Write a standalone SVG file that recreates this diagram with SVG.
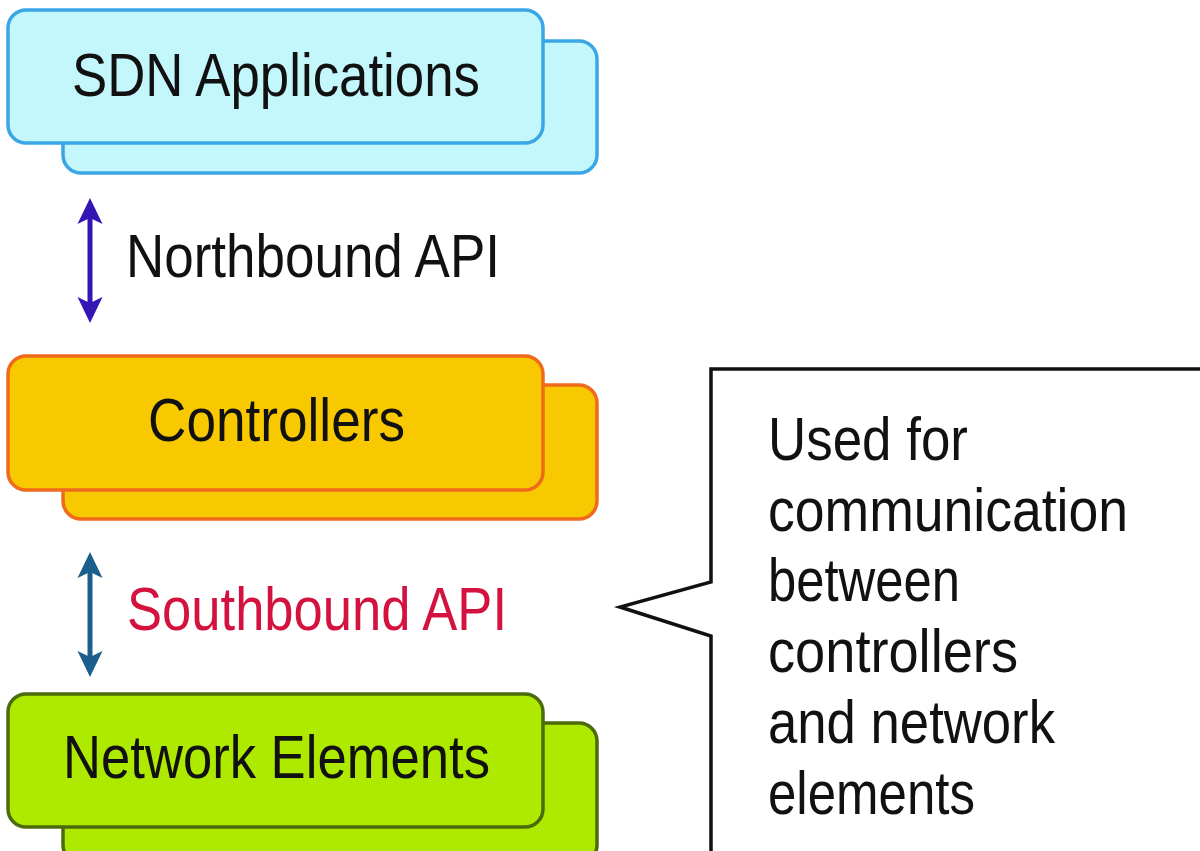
<svg xmlns="http://www.w3.org/2000/svg" width="1200" height="851" viewBox="0 0 1200 851">
<defs>
<style>
.lbl{font-family:"Liberation Sans",Arial,sans-serif;font-size:61px;fill:#111;}
.sdn{fill:#c4f7fc;stroke:#3aa6e6;stroke-width:3.5;}
.ctl{fill:#f8c800;stroke:#f06a1c;stroke-width:3.5;}
.ne{fill:#aeea00;stroke:#4b6b0c;stroke-width:3.5;}
</style>
<marker id="hN" markerUnits="userSpaceOnUse" viewBox="-27 -14 30 28" markerWidth="30" markerHeight="28" refX="-8" refY="0" orient="auto-start-reverse">
<path d="M0,0 L-26,-12.5 L-20,0 L-26,12.5 Z" fill="#3516b4"/>
</marker>
<marker id="hS" markerUnits="userSpaceOnUse" viewBox="-27 -14 30 28" markerWidth="30" markerHeight="28" refX="-8" refY="0" orient="auto-start-reverse">
<path d="M0,0 L-26,-12.5 L-20,0 L-26,12.5 Z" fill="#1c5e8c"/>
</marker>
</defs>
<rect width="1200" height="851" fill="#ffffff"/>

<g id="sdn-applications">
<rect class="sdn" x="63" y="41" width="534" height="132" rx="18"/>
<rect class="sdn" x="8" y="10" width="535" height="133" rx="18"/>
<text class="lbl" x="72" y="96" textLength="408" lengthAdjust="spacingAndGlyphs">SDN Applications</text>
</g>

<g id="controllers">
<rect class="ctl" x="63" y="385" width="534" height="134" rx="18"/>
<rect class="ctl" x="8" y="356" width="535" height="134" rx="18"/>
<text class="lbl" x="148" y="441" textLength="257" lengthAdjust="spacingAndGlyphs">Controllers</text>
</g>

<g id="network-elements">
<rect class="ne" x="63" y="723" width="534" height="140" rx="18"/>
<rect class="ne" x="8" y="694" width="535" height="133" rx="18"/>
<text class="lbl" x="63" y="778" textLength="427" lengthAdjust="spacingAndGlyphs">Network Elements</text>
</g>

<g id="connectors">
<line x1="90" y1="206" x2="90" y2="315" stroke="#3516b4" stroke-width="5" marker-start="url(#hN)" marker-end="url(#hN)"/>
<line x1="90" y1="560" x2="90" y2="669" stroke="#1c5e8c" stroke-width="5" marker-start="url(#hS)" marker-end="url(#hS)"/>
</g>

<g id="northbound-label">
<text class="lbl" x="126" y="277" textLength="374" lengthAdjust="spacingAndGlyphs">Northbound API</text>
</g>

<g id="southbound-label">
<text class="lbl" x="127" y="630" textLength="380" lengthAdjust="spacingAndGlyphs" style="fill:#d3123f">Southbound API</text>
</g>

<g id="callout">
<path d="M1210,369 L711,369 L711,582 L620,607 L711,636 L711,860" fill="#ffffff" stroke="#111" stroke-width="3.5" stroke-linejoin="miter"/>
<text class="lbl" x="768" y="460" textLength="200" lengthAdjust="spacingAndGlyphs">Used for</text>
<text class="lbl" x="768" y="531" textLength="360" lengthAdjust="spacingAndGlyphs">communication</text>
<text class="lbl" x="768" y="601" textLength="192" lengthAdjust="spacingAndGlyphs">between</text>
<text class="lbl" x="768" y="672" textLength="250" lengthAdjust="spacingAndGlyphs">controllers</text>
<text class="lbl" x="768" y="743" textLength="287" lengthAdjust="spacingAndGlyphs">and network</text>
<text class="lbl" x="768" y="814" textLength="207" lengthAdjust="spacingAndGlyphs">elements</text>
</g>
</svg>
